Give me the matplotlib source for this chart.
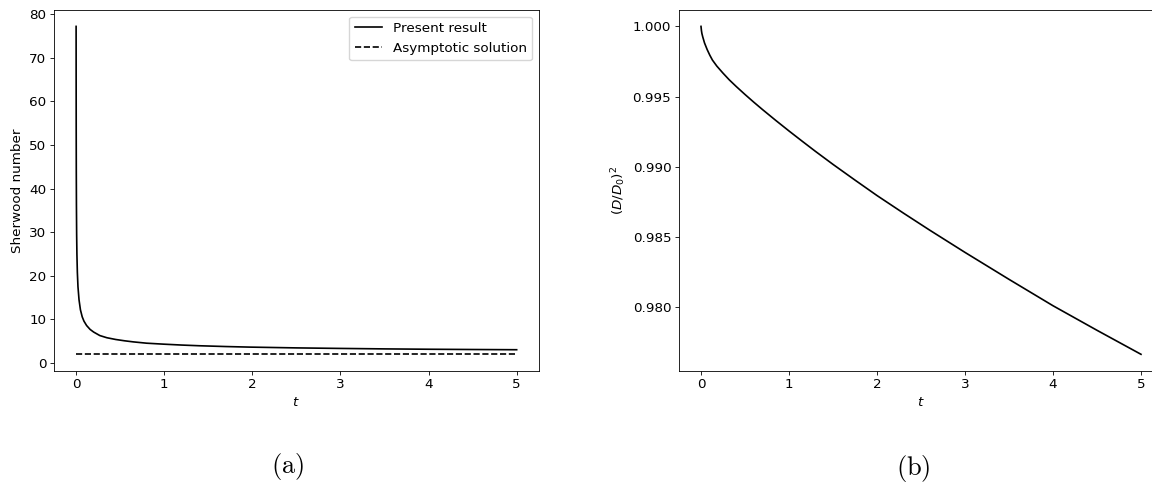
import matplotlib
matplotlib.use("Agg")
import matplotlib.pyplot as plt

# Sherwood number history
t_sh = [0.0009, 0.0013, 0.002, 0.003, 0.0045, 0.007, 0.01, 0.015, 0.022,
        0.034, 0.05, 0.07, 0.09, 0.12, 0.16, 0.2, 0.27, 0.35, 0.45, 0.55,
        0.65, 0.8, 0.99, 1.2, 1.4, 1.7, 1.97, 2.5, 2.99, 3.5, 4.0, 4.5, 5.0]
sh_present = [77.2, 65.8, 53.4, 44.0, 36.3, 29.5, 25.0, 20.8, 17.5,
              14.5, 12.2, 10.6, 9.6, 8.6, 7.7, 7.1, 6.3, 5.8, 5.4, 5.1,
              4.85, 4.55, 4.33, 4.12, 3.96, 3.78, 3.65, 3.47, 3.35, 3.24,
              3.16, 3.1, 3.05]
t_asym = [0.0, 5.0]
sh_asym = [2.0, 2.0]

# Squared diameter history
t_d2 = [0.0, 0.005, 0.01, 0.02, 0.04, 0.07, 0.1, 0.13, 0.18, 0.25, 0.32,
        0.4, 0.5, 0.6, 0.7, 0.85, 1.0, 1.15, 1.3, 1.5, 1.75, 2.0, 2.3, 2.6,
        3.0, 3.5, 4.0, 4.5, 5.0]
d2 = [1.0, 0.9997, 0.9995, 0.99925, 0.99882, 0.99835, 0.99795, 0.9976,
      0.99717, 0.99667, 0.9962, 0.99572, 0.99515, 0.9946, 0.99407, 0.9933,
      0.99255, 0.99182, 0.9911, 0.99017, 0.98905, 0.98795, 0.9867, 0.98548,
      0.9839, 0.98198, 0.9801, 0.97835, 0.97664]

x_ticks = [0, 1, 2, 3, 4, 5]
sh_ticks = [0, 10, 20, 30, 40, 50, 60, 70, 80]
d2_ticks = [0.980, 0.985, 0.990, 0.995, 1.000]

plt.rcParams.update({
    "font.family": ["DejaVu Sans"],
    "font.size": 9.7,
    "axes.labelsize": 9.7,
    "mathtext.fontset": "dejavusans",
    "axes.linewidth": 0.6,
    "xtick.major.size": 2.8,
    "ytick.major.size": 2.8,
    "xtick.major.width": 0.6,
    "ytick.major.width": 0.6,
    "xtick.major.pad": 2.7,
    "ytick.major.pad": 2.7,
    "axes.labelpad": 3.5,
})

fig = plt.figure(figsize=(11.52, 4.82), dpi=100)
ax1 = fig.add_axes([54 / 1152, 1 - 370.7 / 482, 484.7 / 1152, 360.7 / 482])
ax2 = fig.add_axes([679 / 1152, 1 - 370.7 / 482, 484 / 1152, 360.7 / 482])

ax1.plot(t_sh, sh_present, color="black", lw=1.2, label="Present result")
ax1.plot(t_asym, sh_asym, color="black", lw=1.2, ls="--",
         dashes=(3.7, 1.6), label="Asymptotic solution")
ax1.set_xticks(x_ticks)
ax1.set_yticks(sh_ticks)
ax1.set_xlabel(r"$t$")
ax1.set_ylabel("Sherwood number")
ax1.legend(loc="upper right", frameon=True, borderpad=0.4,
           handlelength=2.0, fancybox=True)

ax2.plot(t_d2, d2, color="black", lw=1.2)
ax2.set_xticks(x_ticks)
ax2.set_yticks(d2_ticks)
ax2.set_yticklabels([f"{v:.3f}" for v in d2_ticks])
ax2.set_xlabel(r"$t$")
ax2.set_ylabel(r"$(D/D_0)^2$")

cap_kw = dict(ha="center", va="center", fontsize=19, math_fontfamily="cm")
fig.text(288 / 1152, 1 - 466 / 482, r"$\mathrm{(a)}$", **cap_kw)
fig.text(913 / 1152, 1 - 468 / 482, r"$\mathrm{(b)}$", **cap_kw)

fig.savefig("out.png", dpi=100)
